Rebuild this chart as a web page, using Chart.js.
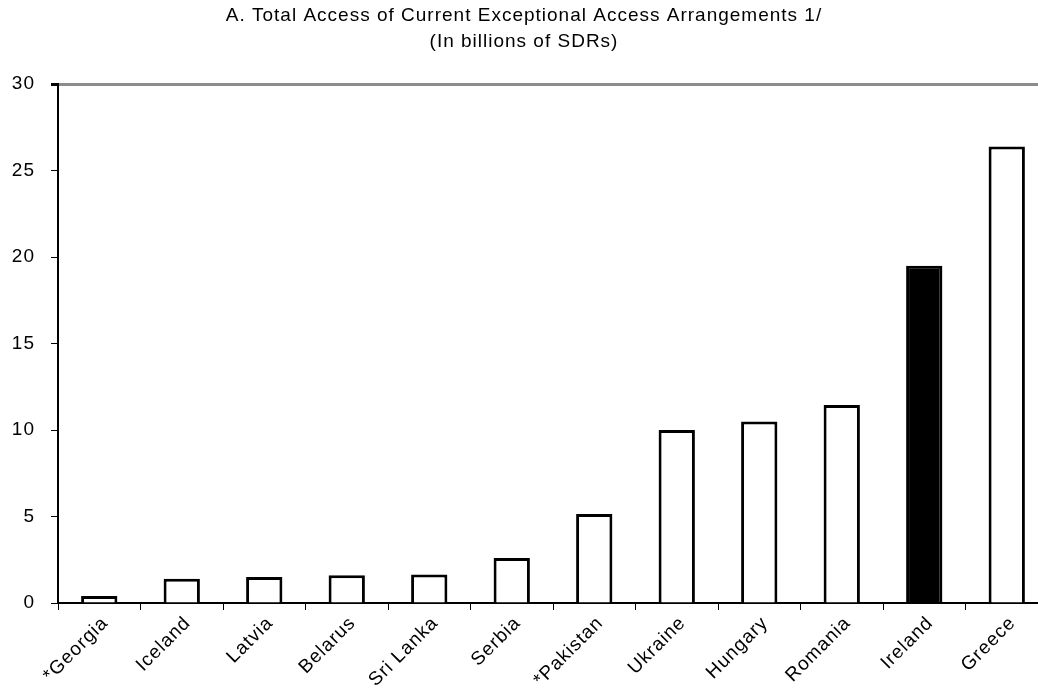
<!DOCTYPE html>
<html>
<head>
<meta charset="utf-8">
<script src="https://cdn.jsdelivr.net/npm/chart.js@4/dist/chart.umd.min.js"></script>
<style>
    body { margin: 0; background: #fff; overflow: hidden; }
    #wrap { position: relative; width: 1048px; height: 694px; }
</style>
</head>
<body>
<div id="wrap"><canvas id="access"></canvas></div>
<script>
// access per country, billions of SDRs
let countries = ["*Georgia", "Iceland", "Latvia", "Belarus", "Sri Lanka", "Serbia",
    "*Pakistan", "Ukraine", "Hungary", "Romania", "Ireland", "Greece"];
let access = [0.4, 1.4, 1.5, 1.6, 1.65, 2.6, 5.15, 10.0, 10.5, 11.45, 19.5, 26.4];
let highlight = "Ireland";
let titleLines = ["A. Total Access of Current Exceptional Access Arrangements 1/", "(In billions of SDRs)"];

Chart.defaults.font.family = "'Liberation Sans', Arial, sans-serif";
Chart.defaults.font.size = 19;
Chart.defaults.color = '#000';

// the source text is set a little wide, so space the letters out
let wideText = {
    id: 'wideText',
    beforeLayout: chart => { chart.ctx.letterSpacing = '1px'; },
    beforeDraw: chart => { chart.ctx.letterSpacing = '1px'; }
};

let ctx = document.getElementById('access').getContext('2d');

new Chart(ctx, {
    type: 'bar',
    plugins: [wideText],

    data: {
        labels: countries,
        datasets: [{
            data: access,
            backgroundColor: countries.map(c => c === highlight ? '#000' : '#fff'),
            borderColor: '#000',
            borderWidth: 3,
            categoryPercentage: 1,
            barPercentage: 0.44
        }]
    },

    options: {
        responsive: true,
        maintainAspectRatio: false,
        animation: false,
        layout: {padding: 0},
        plugins: {
            legend: {display: false},
            tooltip: {enabled: false},
            title: {
                display: true,
                text: titleLines,
                font: {size: 19, weight: 'normal', lineHeight: 1.4},
                padding: {top: 2, bottom: 29}
            }
        },
        scales: {
            x: {
                border: {color: '#000', width: 2},
                grid: {drawOnChartArea: false, drawTicks: true, tickLength: 7, color: '#000', lineWidth: 1},
                ticks: {maxRotation: 45, minRotation: 45, padding: 2, labelOffset: 6},
                afterFit: axis => { axis.height = 91; axis.paddingLeft = 0; axis.paddingRight = 0; }
            },
            y: {
                min: 0,
                max: 30,
                border: {color: '#000', width: 2},
                grid: {
                    color: c => c.tick && c.tick.value === 30 ? '#8c8c8c' : 'rgba(0,0,0,0)',
                    lineWidth: c => c.tick && c.tick.value === 30 ? 3 : 1,
                    tickColor: '#000',
                    tickLength: 7
                },
                ticks: {stepSize: 5, padding: 16},
                afterFit: axis => { axis.width = 58; }
            }
        }
    }
});
</script>
</body>
</html>
